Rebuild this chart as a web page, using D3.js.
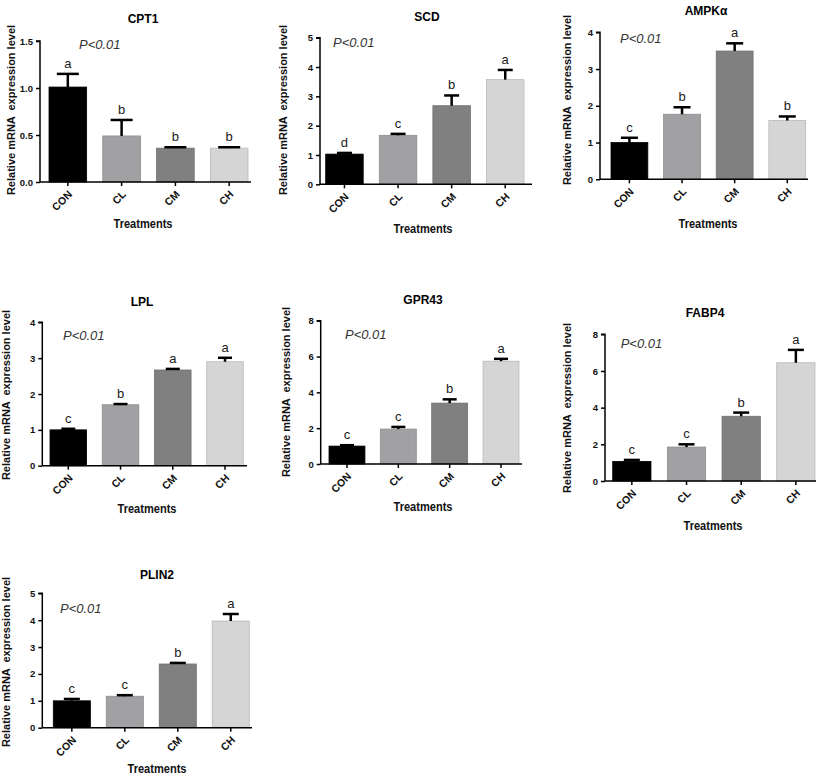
<!DOCTYPE html>
<html>
<head>
<meta charset="utf-8">
<script src="https://cdn.jsdelivr.net/npm/d3@7"></script>
<style>
  body { margin: 0; background: #fff; }
  svg { display: block; font-family: "Liberation Sans", Arial, sans-serif; }
</style>
</head>
<body>
<svg id="chart" width="827" height="777"></svg>
<script>
// ---------- DATA ----------
const categories = ["CON", "CL", "CM", "CH"];
const genes = ["CPT1", "SCD", "AMPKα", "LPL", "GPR43", "FABP4", "PLIN2"];

const cpt1Mean = [1.01, 0.49, 0.36, 0.36];
const cpt1Sem = [0.14, 0.17, 0.01, 0.01];
const cpt1Letters = ["a", "b", "b", "b"];
const cpt1Ticks = [0, 0.5, 1.0, 1.5];

const scdMean = [1.03, 1.67, 2.68, 3.57];
const scdSem = [0.04, 0.05, 0.35, 0.33];
const scdLetters = ["d", "c", "b", "a"];
const scdTicks = [0, 1, 2, 3, 4, 5];

const ampkMean = [1.0, 1.77, 3.49, 1.60];
const ampkSem = [0.13, 0.19, 0.21, 0.11];
const ampkLetters = ["c", "b", "a", "b"];
const ampkTicks = [0, 1, 2, 3, 4];

const lplMean = [1.0, 1.70, 2.67, 2.90];
const lplSem = [0.03, 0.02, 0.03, 0.11];
const lplLetters = ["c", "b", "a", "a"];
const lplTicks = [0, 1, 2, 3, 4];

const gpr43Mean = [1.0, 1.95, 3.40, 5.74];
const gpr43Sem = [0.05, 0.12, 0.21, 0.13];
const gpr43Letters = ["c", "c", "b", "a"];
const gpr43Ticks = [0, 2, 4, 6, 8];

const fabp4Mean = [1.07, 1.85, 3.53, 6.45];
const fabp4Sem = [0.08, 0.15, 0.20, 0.70];
const fabp4Letters = ["c", "c", "b", "a"];
const fabp4Ticks = [0, 2, 4, 6, 8];

const plin2Mean = [1.0, 1.17, 2.37, 3.97];
const plin2Sem = [0.07, 0.04, 0.04, 0.26];
const plin2Letters = ["c", "c", "b", "a"];
const plin2Ticks = [0, 1, 2, 3, 4, 5];

const barColors = ["#000000", "#a1a1a4", "#808080", "#d5d5d5"];
const pText = "P<0.01";
const xTitle = "Treatments";
const yTitle = "Relative mRNA  expression level";

// ---------- LAYOUT (positions only) ----------
const layouts = [
  { ax: 40,    yTop: 41,    yBot: 182,   barL: 49,    barR: 248,   axR: 251, title: [143, 23],   tre: [143, 228],   ylab: [14.5, 110],  p: [79, 49],     cap: 22, fmt: ".1f" },
  { ax: 320,   yTop: 37.7,  yBot: 184.3, barL: 325.7, barR: 524,   axR: 532, title: [427, 21],   tre: [423, 233],   ylab: [286.5, 110], p: [333, 46.7],  cap: 15, fmt: "d" },
  { ax: 600,   yTop: 32.3,  yBot: 179.3, barL: 611,   barR: 805.7, axR: 808, title: [706, 15],   tre: [708, 228],   ylab: [570.5, 100], p: [620, 43.3],  cap: 17, fmt: "d" },
  { ax: 42.3,  yTop: 322.3, yBot: 465.7, barL: 50,    barR: 243.3, axR: 247, title: [142, 306],  tre: [147, 513],   ylab: [9.5, 395],   p: [63, 340],    cap: 14, fmt: "d" },
  { ax: 320.7, yTop: 320.7, yBot: 464,   barL: 329,   barR: 519,   axR: 522, title: [423, 304],  tre: [423, 510.5], ylab: [289.5, 392], p: [345, 339],   cap: 14, fmt: "d" },
  { ax: 605,   yTop: 334.3, yBot: 481,   barL: 612.7, barR: 815,   axR: 816, title: [705, 316.5],tre: [713, 530],   ylab: [570.5, 408], p: [620.7, 348.3], cap: 16, fmt: "d" },
  { ax: 42.3,  yTop: 593.3, yBot: 727.7, barL: 53.3,  barR: 249.3, axR: 252, title: [157, 579],  tre: [157, 773],   ylab: [9.5, 662],   p: [60, 613.3],  cap: 16, fmt: "d" }
];

const panelData = [
  { mean: cpt1Mean,  sem: cpt1Sem,  letters: cpt1Letters,  ticks: cpt1Ticks },
  { mean: scdMean,   sem: scdSem,   letters: scdLetters,   ticks: scdTicks },
  { mean: ampkMean,  sem: ampkSem,  letters: ampkLetters,  ticks: ampkTicks },
  { mean: lplMean,   sem: lplSem,   letters: lplLetters,   ticks: lplTicks },
  { mean: gpr43Mean, sem: gpr43Sem, letters: gpr43Letters, ticks: gpr43Ticks },
  { mean: fabp4Mean, sem: fabp4Sem, letters: fabp4Letters, ticks: fabp4Ticks },
  { mean: plin2Mean, sem: plin2Sem, letters: plin2Letters, ticks: plin2Ticks }
];

// ---------- DRAW ----------
const svg = d3.select("#chart");

genes.forEach((gene, gi) => {
  const L = layouts[gi];
  const D = panelData[gi];
  const g = svg.append("g");

  const x = d3.scaleBand().domain(categories).range([L.barL, L.barR]).paddingInner(0.3).paddingOuter(0);
  const y = d3.scaleLinear().domain([0, d3.max(D.ticks)]).range([L.yBot, L.yTop]);

  const rows = categories.map((c, i) => ({ c, i, m: D.mean[i], s: D.sem[i], l: D.letters[i] }));

  // bars
  g.selectAll("rect.bar").data(rows).enter().append("rect")
    .attr("x", d => x(d.c))
    .attr("width", x.bandwidth())
    .attr("y", d => y(d.m))
    .attr("height", d => y(0) - y(d.m))
    .attr("fill", d => barColors[d.i])
    .attr("stroke", d => d.i === 0 ? "#000" : d3.color(barColors[d.i]).darker(0.4))
    .attr("stroke-width", 0.8);

  // error bars (upper only)
  const eb = g.selectAll("g.err").data(rows).enter().append("g");
  eb.append("line")
    .attr("x1", d => x(d.c) + x.bandwidth() / 2)
    .attr("x2", d => x(d.c) + x.bandwidth() / 2)
    .attr("y1", d => y(d.m))
    .attr("y2", d => y(d.m + d.s))
    .attr("stroke", "#000").attr("stroke-width", 2.5);
  eb.append("line")
    .attr("x1", d => x(d.c) + x.bandwidth() / 2 - L.cap / 2)
    .attr("x2", d => x(d.c) + x.bandwidth() / 2 + L.cap / 2)
    .attr("y1", d => y(d.m + d.s))
    .attr("y2", d => y(d.m + d.s))
    .attr("stroke", "#000").attr("stroke-width", 2.5);

  // letters
  g.selectAll("text.letter").data(rows).enter().append("text")
    .attr("x", d => x(d.c) + x.bandwidth() / 2)
    .attr("y", d => y(d.m + d.s) - 6)
    .attr("text-anchor", "middle")
    .attr("font-size", 13)
    .attr("fill", "#1a1a1a")
    .text(d => d.l);

  // y axis
  const yAxis = d3.axisLeft(y).tickValues(D.ticks).tickSize(4).tickPadding(3)
    .tickFormat(d3.format(L.fmt));
  const ya = g.append("g").attr("transform", `translate(${L.ax},0)`).call(yAxis);
  ya.select(".domain").attr("stroke-width", 1.5).attr("d", `M-4,${L.yTop}H0V${L.yBot}`);
  ya.selectAll(".tick line").attr("stroke-width", 1.5);
  ya.selectAll(".tick text").attr("font-size", 9.5).attr("font-weight", "bold")
    .attr("font-family", "Liberation Sans, Arial, sans-serif").attr("fill", "#111");

  // x axis
  const xa = g.append("g").attr("transform", `translate(0,${L.yBot})`)
    .call(d3.axisBottom(x).tickSize(4).tickSizeOuter(0));
  xa.select(".domain").attr("stroke-width", 1.5).attr("d", `M${L.ax},0H${L.axR}`);
  xa.selectAll(".tick line").attr("stroke-width", 1.5);
  xa.selectAll(".tick text")
    .attr("font-size", 10.5).attr("font-weight", "bold")
    .attr("font-family", "Liberation Sans, Arial, sans-serif").attr("fill", "#111")
    .attr("text-anchor", "end")
    .attr("dy", null)
    .attr("y", 0)
    .attr("transform", "translate(5,13) rotate(-45)");

  // title
  g.append("text").attr("x", L.title[0]).attr("y", L.title[1])
    .attr("text-anchor", "middle").attr("font-size", 12).attr("font-weight", "bold")
    .text(gene);

  // x title
  g.append("text").attr("x", L.tre[0]).attr("y", L.tre[1])
    .attr("text-anchor", "middle").attr("font-size", 13.5).attr("font-weight", "bold")
    .attr("fill", "#111")
    .attr("textLength", 59).attr("lengthAdjust", "spacingAndGlyphs")
    .text(xTitle);

  // y title
  g.append("text")
    .attr("transform", `translate(${L.ylab[0]},${L.ylab[1]}) rotate(-90)`)
    .attr("text-anchor", "middle").attr("font-size", 11).attr("font-weight", "bold")
    .attr("fill", "#111")
    .style("white-space", "pre")
    .text(yTitle);

  // P value
  g.append("text").attr("x", L.p[0]).attr("y", L.p[1])
    .attr("font-size", 13).attr("font-style", "italic").attr("fill", "#333")
    .text(pText);
});
</script>
</body>
</html>
